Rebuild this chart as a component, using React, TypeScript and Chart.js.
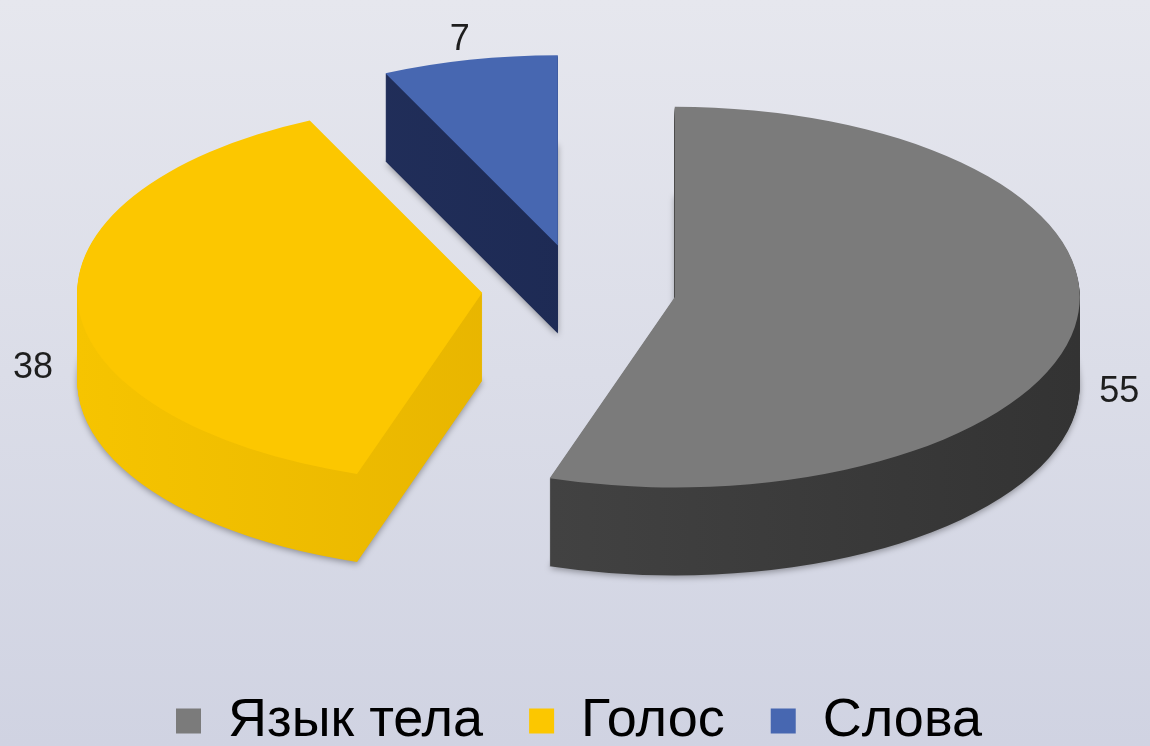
import { useEffect, useRef } from 'react';
import { Chart, registerables } from 'chart.js';

Chart.register(...registerables);

const categories = ['Язык тела', 'Голос', 'Слова'];
const values = [55, 38, 7];
const topColors = ['#7b7b7b', '#fcc700', '#4767b1'];
const wallColorsLeft = ['#4a4a4a', '#f6c400', '#24325f'];
const wallColorsRight = ['#333333', '#dba800', '#17234a'];

const TILT = 0.47;
const DEPTH = 88;
const EXPLODE = 97;
const RADIUS = 405;
const LABEL_GAP = 45;
const FONT = '"Liberation Sans", Arial, sans-serif';

const pie3d = {
  id: 'pie3d',
  beforeDraw(chart: any) {
    const { ctx, width, height } = chart;
    const g = ctx.createLinearGradient(0, 0, 0, height);
    g.addColorStop(0, '#e6e7ee');
    g.addColorStop(1, '#d0d3e2');
    ctx.save();
    ctx.fillStyle = g;
    ctx.fillRect(0, 0, width, height);
    ctx.restore();
  },
  beforeDatasetsDraw(chart: any) {
    const { ctx, chartArea } = chart;
    const anchor = chartArea.top;
    ctx.save();
    ctx.translate(0, anchor);
    ctx.scale(1, TILT);
    ctx.translate(0, -anchor);
    const meta = chart.getDatasetMeta(0);
    meta.data.forEach((arc: any, i: number) => {
      const { x, y, startAngle, endAngle, outerRadius } = arc;
      const mid = (startAngle + endAngle) / 2;
      const ax = x + Math.cos(mid) * EXPLODE;
      const ay = y + Math.sin(mid) * EXPLODE;
      const grad = ctx.createLinearGradient(ax - outerRadius, 0, ax + outerRadius, 0);
      grad.addColorStop(0, wallColorsLeft[i]);
      grad.addColorStop(1, wallColorsRight[i]);
      for (let d = DEPTH; d >= 1; d--) {
        const dy = d / TILT;
        ctx.beginPath();
        ctx.moveTo(ax, ay + dy);
        ctx.arc(ax, ay + dy, outerRadius, startAngle, endAngle);
        ctx.closePath();
        ctx.fillStyle = grad;
        if (d === DEPTH) {
          ctx.save();
          ctx.shadowColor = 'rgba(0,0,0,0.35)';
          ctx.shadowBlur = 6;
          ctx.shadowOffsetY = 2;
          ctx.fill();
          ctx.restore();
        } else {
          ctx.fill();
        }
      }
    });
  },
  beforeDatasetDraw(chart: any, args: any) {
    const { ctx } = chart;
    args.meta.data.forEach((arc: any) => {
      const mid = (arc.startAngle + arc.endAngle) / 2;
      ctx.save();
      ctx.translate(Math.cos(mid) * EXPLODE, Math.sin(mid) * EXPLODE);
      arc.draw(ctx);
      ctx.restore();
    });
    return false;
  },
  afterDatasetsDraw(chart: any) {
    const { ctx, chartArea } = chart;
    ctx.restore();
    const anchor = chartArea.top;
    const meta = chart.getDatasetMeta(0);
    ctx.save();
    ctx.font = '36px ' + FONT;
    ctx.fillStyle = '#1e1e1e';
    ctx.textAlign = 'center';
    ctx.textBaseline = 'middle';
    meta.data.forEach((arc: any, i: number) => {
      const { x, y, startAngle, endAngle, outerRadius } = arc;
      const mid = (startAngle + endAngle) / 2;
      const ax = x + Math.cos(mid) * EXPLODE;
      const ay = y + Math.sin(mid) * EXPLODE;
      const dist = outerRadius + LABEL_GAP;
      const px = ax + Math.cos(mid) * dist;
      const py = ay + Math.sin(mid) * dist;
      const sy = anchor + (py - anchor) * TILT;
      const drop = DEPTH * 0.7 * (1 - Math.max(0, -Math.sin(mid)));
      ctx.fillText(String(values[i]), px, sy + drop);
    });
    ctx.restore();
  },
};

export default function App() {
  const canvasRef = useRef<HTMLCanvasElement | null>(null);

  useEffect(() => {
    if (!canvasRef.current) return;
    const chart = new Chart(canvasRef.current, {
      type: 'pie',
      data: {
        labels: categories,
        datasets: [
          {
            data: values,
            backgroundColor: topColors,
            borderWidth: 0,
            offset: 0,
            hoverOffset: 0,
            radius: RADIUS,
            clip: false,
          } as any,
        ],
      },
      options: {
        animation: false,
        responsive: false,
        events: [],
        radius: RADIUS,
        layout: { padding: { left: 8, right: 0, top: 180, bottom: -12 } },
        plugins: {
          legend: {
            position: 'bottom',
            labels: {
              color: '#000',
              font: { size: 54, family: FONT },
              boxWidth: 25,
              boxHeight: 25,
              padding: 46,
            },
          },
          tooltip: { enabled: false },
        },
      } as any,
      plugins: [pie3d as any],
    });
    return () => chart.destroy();
  }, []);

  return (
    <div style={{ position: 'absolute', left: 0, top: 0, width: 1150, height: 746 }}>
      <canvas ref={canvasRef} width={1150} height={746} style={{ display: 'block' }} />
    </div>
  );
}
